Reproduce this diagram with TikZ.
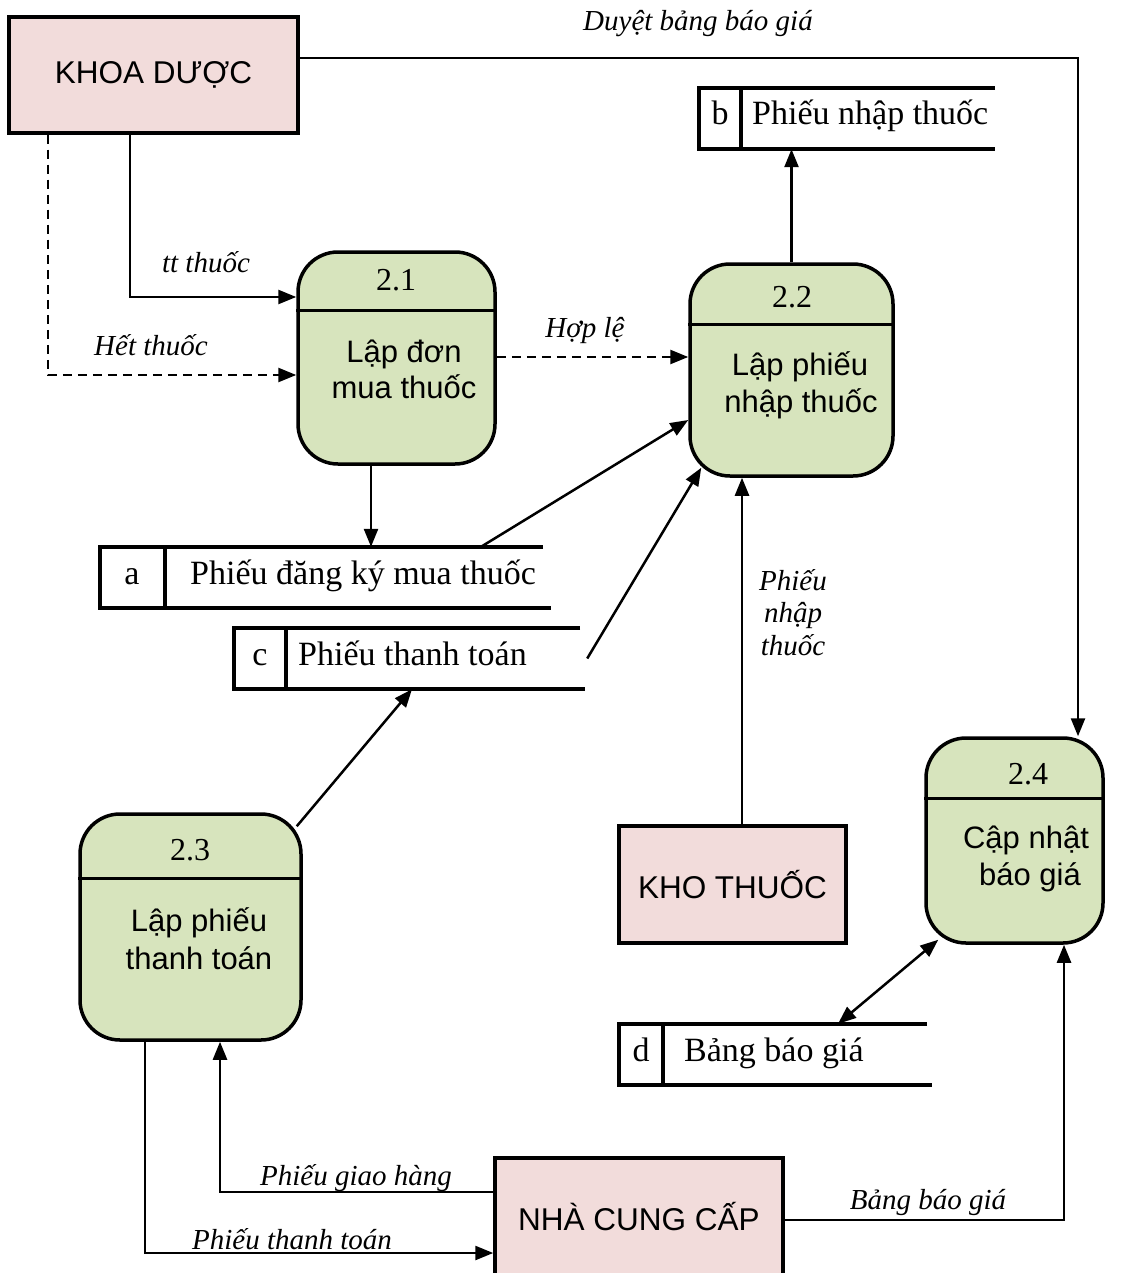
\documentclass[tikz,border=0pt]{standalone}
\usepackage{fontspec}
\setmainfont{Liberation Serif}
\setsansfont{Liberation Sans}
\usetikzlibrary{arrows.meta,calc}
\definecolor{entityfill}{HTML}{F2DCDB}
\definecolor{procfill}{HTML}{D7E4BD}

\tikzset{
  entity/.style={draw, line width=3.5pt, fill=entityfill, inner sep=0pt,
    font=\sffamily\fontsize{31.5}{37}\selectfont},
  proc/.style={draw, line width=3.5pt, fill=procfill, rounded corners=40pt, inner sep=0pt},
  storebox/.style={inner sep=0pt},
  storeline/.style={line width=3.5pt},
  tip/.tip={Triangle[length=18pt,width=14pt]},
  flow/.style={line width=2.5pt, -tip},
  dflow/.style={flow, dash pattern=on 9pt off 6pt},
  lbl/.style={font=\itshape\fontsize{29}{33}\selectfont, inner sep=0pt, anchor=base},
  ptext/.style={font=\sffamily\fontsize{31}{37}\selectfont, inner sep=0pt, anchor=base},
  pnum/.style={font=\fontsize{32}{36}\selectfont, inner sep=0pt, anchor=base},
  stext/.style={font=\fontsize{34}{40}\selectfont, inner sep=0pt, anchor=base west},
  sletter/.style={font=\fontsize{34}{40}\selectfont, inner sep=0pt, anchor=base},
}

\begin{document}
\begin{tikzpicture}[x=1pt,y=-1pt]
\useasboundingbox (0,0) rectangle (1133,1273);
\fill[white] (0,0) rectangle (1133,1273);
\clip (0,0) rectangle (1133,1273);

% external entities
\node[entity, minimum width=289pt, minimum height=116pt] (kd) at (153.5,75) {KHOA DƯỢC};
\node[entity, minimum width=227pt, minimum height=117pt] (kt) at (732.5,884.5) {KHO THUỐC};
\node[entity, minimum width=288pt, minimum height=118pt] (ncc) at (639,1217) {NHÀ CUNG CẤP};

% processes
\node[proc, minimum width=197pt, minimum height=212pt] (p21) at (396.5,358) {};
\node[proc, minimum width=203pt, minimum height=212pt] (p22) at (791.5,370) {};
\node[proc, minimum width=221pt, minimum height=226pt] (p23) at (190.5,927) {};
\node[proc, minimum width=177pt, minimum height=205pt] (p24) at (1014.5,840.5) {};

\draw[line width=3.5pt] ([yshift=-60pt]p21.north west) -- ([yshift=-60pt]p21.north east);
\draw[line width=3.5pt] ([yshift=-62pt]p22.north west) -- ([yshift=-62pt]p22.north east);
\draw[line width=3.5pt] ([yshift=-66pt]p23.north west) -- ([yshift=-66pt]p23.north east);
\draw[line width=3.5pt] ([yshift=-62pt]p24.north west) -- ([yshift=-62pt]p24.north east);

\node[pnum] (n21) at (396,290) {2.1};
\node[ptext] (t21a) at (404,362) {Lập đơn};
\node[ptext] (t21b) at (404,398) {mua thuốc};
\node[pnum] (n22) at (792,307) {2.2};
\node[ptext] (t22a) at (800,375) {Lập phiếu};
\node[ptext] (t22b) at (801,412) {nhập thuốc};
\node[pnum] (n23) at (190,860) {2.3};
\node[ptext] (t23a) at (199,931) {Lập phiếu};
\node[ptext] (t23b) at (199,969) {thanh toán};
\node[pnum] (n24) at (1028,784) {2.4};
\node[ptext] (t24a) at (1026,848) {Cập nhật};
\node[ptext] (t24b) at (1030,885) {báo giá};

% data stores
\node[storebox, minimum width=296pt, minimum height=61pt] (sb) at (847,118.5) {};
\draw[storeline] (sb.north east) -- (sb.north west) -- (sb.south west) -- (sb.south east);
\draw[storeline] ([xshift=42pt]sb.north west) -- ([xshift=42pt]sb.south west);
\node[sletter] (lb) at (720,125) {b};
\node[stext] (xb) at (752,125) {Phiếu nhập thuốc};

\node[storebox, minimum width=451pt, minimum height=61pt] (sa) at (325.5,577.5) {};
\draw[storeline] ([xshift=-8pt]sa.north east) -- (sa.north west) -- (sa.south west) -- (sa.south east);
\draw[storeline] ([xshift=65pt]sa.north west) -- ([xshift=65pt]sa.south west);
\node[sletter] (la) at (132,584) {a};
\node[stext] (xa) at (190,584) {Phiếu đăng ký mua thuốc};

\node[storebox, minimum width=351pt, minimum height=61pt] (sc) at (409.5,658.5) {};
\draw[storeline] ([xshift=-5pt]sc.north east) -- (sc.north west) -- (sc.south west) -- (sc.south east);
\draw[storeline] ([xshift=52pt]sc.north west) -- ([xshift=52pt]sc.south west);
\node[sletter] (lc) at (260,665) {c};
\node[stext] (xc) at (298,665) {Phiếu thanh toán};

\node[storebox, minimum width=313pt, minimum height=61pt] (sd) at (775.5,1054.5) {};
\draw[storeline] ([xshift=-5pt]sd.north east) -- (sd.north west) -- (sd.south west) -- (sd.south east);
\draw[storeline] ([xshift=44pt]sd.north west) -- ([xshift=44pt]sd.south west);
\node[sletter] (ld) at (641,1061) {d};
\node[stext] (xd) at (684,1061) {Bảng báo giá};

% data flows
\draw[flow] ([yshift=17pt]kd.east) -| ([xshift=63.5pt]p24.north);
\draw[flow] ([xshift=-23.5pt]kd.south) |- ([yshift=61pt]p21.west);
\draw[dflow] ([xshift=-105.5pt]kd.south) |- ([yshift=-17pt]p21.west);
\draw[dflow] ([yshift=1pt]p21.east) -- ([yshift=1pt]p21.east -| p22.west);
\draw[flow] (p22.north) -- (p22.north |- sb.south);
\draw[flow] ([xshift=-25.5pt]p21.south) -- ([xshift=-25.5pt]p21.south |- sa.north);
\draw[flow] ([xshift=155.5pt]sa.north) -- ([yshift=-50pt]p22.west);
\draw[flow] ([xshift=2pt]sc.east) -- ([shift={(13pt,10pt)}]p22.south west);
\draw[flow] ([shift={(-6pt,-14pt)}]p23.north east) -- ([xshift=2.5pt]sc.south);
\draw[flow] ([xshift=9.5pt]kt.north) -- ([xshift=9.5pt]kt.north |- p22.south);
\draw[line width=2.5pt, tip-tip] ([xshift=62.5pt]sd.north) -- ([shift={(14pt,5pt)}]p24.south west);
\draw[flow] ([yshift=25pt]ncc.west) -| ([xshift=29.5pt]p23.south);
\draw[flow] ([xshift=-45.5pt]p23.south) |- ([yshift=-36pt]ncc.west);
\draw[flow] ([yshift=-3pt]ncc.east) -| ([xshift=49.5pt]p24.south);

% flow labels
\node[lbl] (l1) at (698,31) {Duyệt bảng báo giá};
\node[lbl] (l2) at (206,272) {tt thuốc};
\node[lbl] (l3) at (151,355) {Hết thuốc};
\node[lbl] (l4) at (585,337) {Hợp lệ};
\node[lbl] (l5a) at (793,590) {Phiếu};
\node[lbl] (l5b) at (793,622) {nhập};
\node[lbl] (l5c) at (793,655) {thuốc};
\node[lbl] (l6) at (356,1185) {Phiếu giao hàng};
\node[lbl] (l7) at (292,1249) {Phiếu thanh toán};
\node[lbl] (l8) at (928,1209) {Bảng báo giá};
\end{tikzpicture}
\end{document}
